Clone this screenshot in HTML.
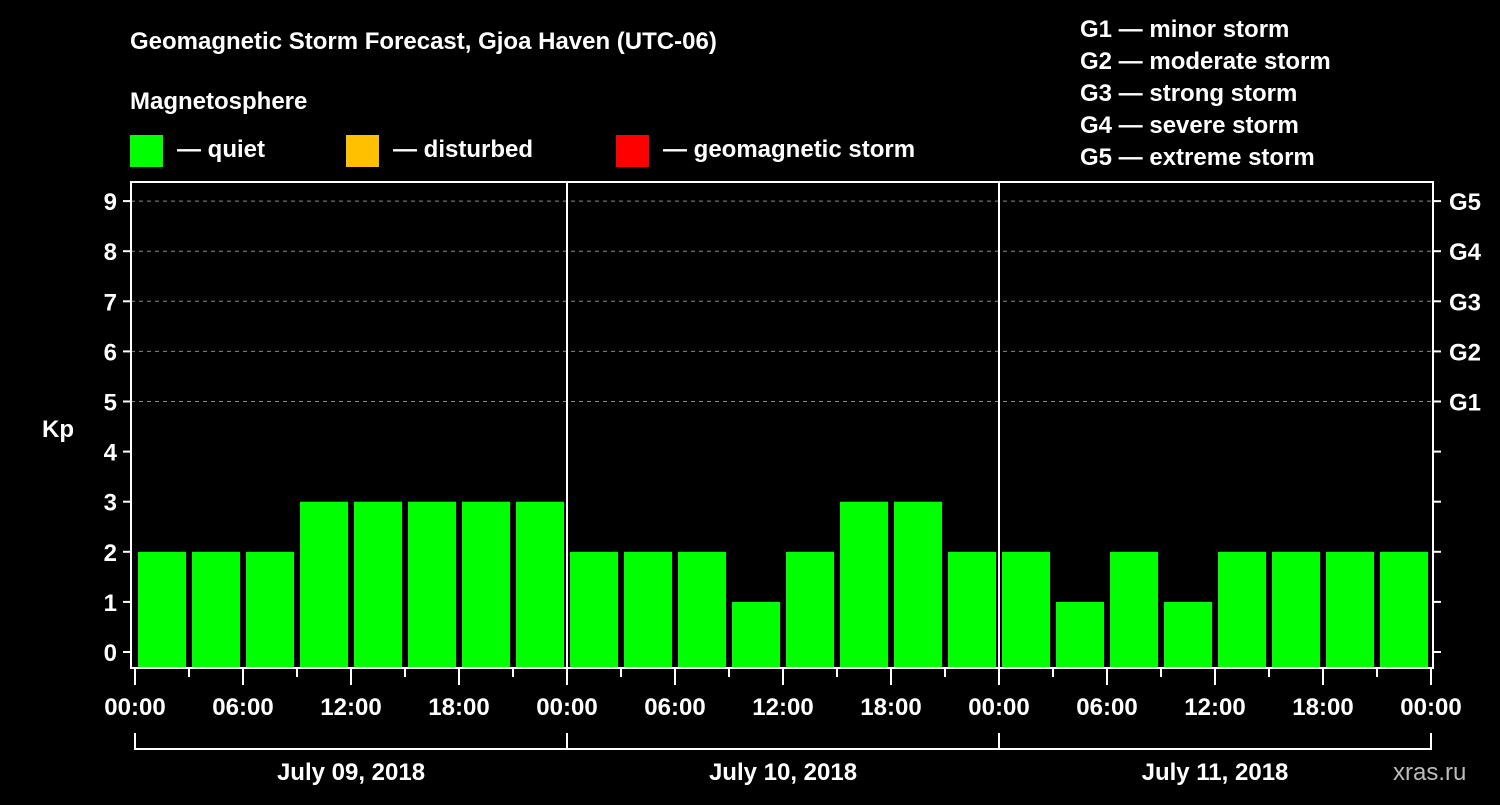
<!DOCTYPE html>
<html><head><meta charset="utf-8"><style>
body{margin:0;background:#000;width:1500px;height:800px;overflow:hidden}
svg text{font-family:"Liberation Sans",Arial,sans-serif;font-weight:bold;fill:#fff}
</style></head><body>
<svg id="c" width="1500" height="800" xmlns="http://www.w3.org/2000/svg">
<rect width="1500" height="800" fill="#000"/>
<text x="130" y="49" font-size="24">Geomagnetic Storm Forecast, Gjoa Haven (UTC-06)</text>
<text x="130" y="109" font-size="24">Magnetosphere</text>
<g><rect x="130" y="135" width="33" height="32" fill="#00ff00"/><text x="177" y="157" font-size="24">— quiet</text></g>
<g><rect x="346" y="135" width="33" height="32" fill="#ffc000"/><text x="393" y="157" font-size="24">— disturbed</text></g>
<g><rect x="616" y="135" width="33" height="32" fill="#ff0000"/><text x="663" y="157" font-size="24">— geomagnetic storm</text></g>
<g font-size="24">
<text x="1080" y="37">G1 — minor storm</text>
<text x="1080" y="69">G2 — moderate storm</text>
<text x="1080" y="101">G3 — strong storm</text>
<text x="1080" y="133">G4 — severe storm</text>
<text x="1080" y="165">G5 — extreme storm</text>
</g>
<text x="42" y="437" font-size="24">Kp</text>
<text x="1393" y="780" font-size="24" fill="#aaa" style="fill:#bbb;font-weight:normal">xras.ru</text>
<g id="grid"></g><g id="bars"></g><g id="axes"></g>
</svg>
<script>
const days = ["July 09, 2018","July 10, 2018","July 11, 2018"];
const kpValues = [2,2,2,3,3,3,3,3, 2,2,2,1,2,3,3,2, 2,1,2,1,2,2,2,2];
const kpTicks = [0,1,2,3,4,5,6,7,8,9];
const gLabels = ["G1","G2","G3","G4","G5"];
const hourLabels = ["00:00","06:00","12:00","18:00"];
const NS="http://www.w3.org/2000/svg";
const X0=135, DAYW=432, L=131, R=1433, T=182, B=668;
const xs = h => X0 + h*DAYW/24;
const ys = v => 652 - v*50.1;
function mk(tag, attrs, parent){const e=document.createElementNS(NS,tag);for(const k in attrs)e.setAttribute(k,attrs[k]);parent.appendChild(e);return e;}
const grid=document.getElementById('grid'), bars=document.getElementById('bars'), axes=document.getElementById('axes');
// dashed grid for kp 5..9
for(let v=5;v<=9;v++){
  const l=mk('line',{x1:L,x2:R,y1:ys(v),y2:ys(v),stroke:'#888','stroke-dasharray':'4,4'},grid);
  
  
}
kpValues.forEach((v,i)=>{
  const x=xs(i*3);
  const color = v>=5?'#ff0000':(v>=4?'#ffc000':'#00ff00');
  const r=mk('rect',{x:x+3,y:ys(v),width:48,height:B-1-ys(v),fill:color},bars);
  
  
});
// frame
const f=mk('rect',{x:L,y:T,width:R-L,height:B-T,fill:'none',stroke:'#fff','stroke-width':2},axes);


for(let d=1;d<days.length;d++){
  const s=mk('line',{x1:xs(d*24),x2:xs(d*24),y1:T,y2:B,stroke:'#fff','stroke-width':2},axes);
  
  
}
kpTicks.forEach(v=>{
  mk('line',{x1:L-8,x2:L,y1:ys(v),y2:ys(v),stroke:'#fff','stroke-width':2},axes);
  mk('line',{x1:R,x2:R+8,y1:ys(v),y2:ys(v),stroke:'#fff','stroke-width':2},axes);
  const t=mk('text',{x:L-14,y:ys(v)+9,'font-size':24,'text-anchor':'end'},axes);
  t.textContent=v;
  
  
});
gLabels.forEach((g,i)=>{
  const t=mk('text',{x:R+16,y:ys(i+5)+9,'font-size':24},axes);
  t.textContent=g;
  
  
});
for(let h=0;h<=72;h+=3){
  const major=h%6===0;
  mk('line',{x1:xs(h),x2:xs(h),y1:B,y2:B+(major?17:9),stroke:'#fff','stroke-width':2},axes);
  if(major){
    const t=mk('text',{x:xs(h),y:715,'font-size':24,'text-anchor':'middle'},axes);
    t.textContent= h===72? hourLabels[0] : hourLabels[(h%24)/6];
    
    
  }
}
mk('line',{x1:xs(0),x2:xs(72),y1:749,y2:749,stroke:'#fff','stroke-width':2},axes);
for(let d=0;d<=days.length;d++) mk('line',{x1:xs(d*24),x2:xs(d*24),y1:733,y2:750,stroke:'#fff','stroke-width':2},axes);
days.forEach((d,i)=>{
  const t=mk('text',{x:xs(i*24+12),y:780,'font-size':24,'text-anchor':'middle'},axes);
  t.textContent=d;
  
  
});
</script>
</body></html>
